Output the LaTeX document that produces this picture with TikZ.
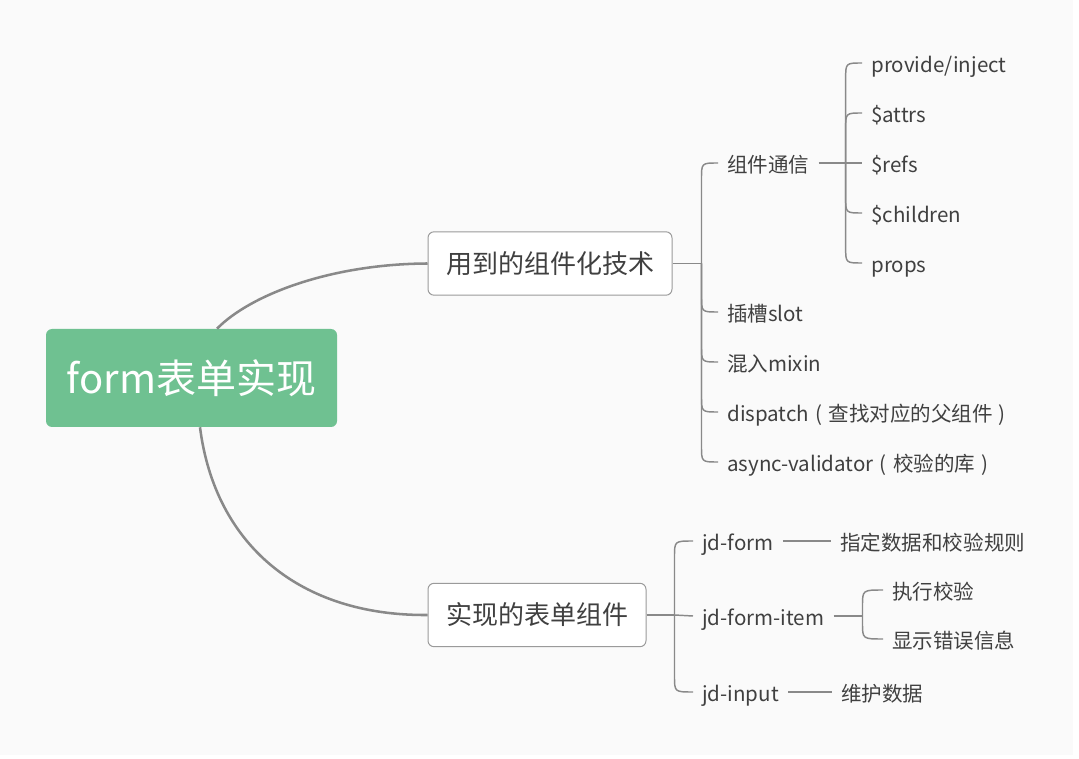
\documentclass[tikz,border=0pt]{standalone}
\usepackage{fontspec}
\setmainfont{Noto Sans CJK SC}
\usetikzlibrary{calc}
\definecolor{bgc}{HTML}{FAFAFA}
\definecolor{rootc}{HTML}{6FC191}
\definecolor{linec}{HTML}{898989}
\definecolor{txtc}{HTML}{404040}
\definecolor{boxb}{HTML}{9A9A9A}
\newcommand\brdown[2]{\draw[brl] (#1) -- ($(#1 |- #2.west)+(0,-16)$) .. controls (#1 |- #2.west) .. (#2.west);}
\newcommand\brup[2]{\draw[brl] (#1) -- ($(#1 |- #2.west)+(0,16)$) .. controls (#1 |- #2.west) .. (#2.west);}
\newcommand\lpar{\hspace{0.3em}(\hspace{0.3em}}
\newcommand\rpar{\hspace{0.3em})}
\begin{document}
\begin{tikzpicture}[x=0.75pt,y=-0.75pt,
  rootnode/.style={fill=rootc, rounded corners=4.5pt, minimum width=218.25pt, minimum height=73.5pt,
    inner sep=0pt, text=white, font=\fontsize{30pt}{36pt}\selectfont},
  l1box/.style={draw=boxb, line width=0.75pt, fill=white, rounded corners=4.5pt, inner xsep=13.5pt,
    minimum height=47.5pt, inner ysep=0pt, text=txtc, font=\fontsize{19.5pt}{23pt}\selectfont},
  leaf/.style={anchor=west, inner xsep=6.75pt, inner ysep=0pt, text height=1.4em, text depth=0pt,
    text=txtc, font=\fontsize{15.4pt}{18pt}\selectfont},
  mainl/.style={draw=linec, line width=1.9pt},
  brl/.style={draw=linec, line width=1.1pt},
]
\useasboundingbox (0,0) rectangle (1079,759);
\fill[white] (0,0) rectangle (1079,759);
\fill[bgc] (0,0) rectangle (1073,755);

% nodes
\node[rootnode] (root) at (191.5,378) {form表单实现};
\node[l1box] (A) at (550,263.5) {用到的组件化技术};
\node[l1box] (B) at (537,615) {实现的表单组件};

\node[leaf] (c1) at (718,163) {组件通信};
\node[leaf] (c2) at (718,312) {插槽slot};
\node[leaf] (c3) at (718,362) {混入mixin};
\node[leaf] (c4) at (718,412) {dispatch\lpar 查找对应的父组件\rpar};
\node[leaf] (c5) at (718,462) {async-validator\lpar 校验的库\rpar};

\node[leaf] (d1) at (862,63) {provide/inject};
\node[leaf] (d2) at (862,113) {\$attrs};
\node[leaf] (d3) at (862,163) {\$refs};
\node[leaf] (d4) at (862,213) {\$children};
\node[leaf] (d5) at (862,263) {props};

\node[leaf] (e1) at (693,541) {jd-form};
\node[leaf] (e2) at (693,616) {jd-form-item};
\node[leaf] (e3) at (693,692) {jd-input};

\node[leaf] (f1) at (831,541) {指定数据和校验规则};
\node[leaf] (g1) at (883,590) {执行校验};
\node[leaf] (g2) at (883,639) {显示错误信息};
\node[leaf] (h1) at (832,692) {维护数据};

% junctions
\coordinate (JA) at ($(A.east)+(29,0)$);
\coordinate (JC) at ($(c1.east)+(27,0)$);
\coordinate (JB) at ($(B.east)+(28,0)$);
\coordinate (JE) at ($(e2.east)+(29,0)$);

% root connectors
\draw[mainl] ($(root.north)+(25.5,0)$) .. controls (250,295) and (330,264) .. (A.west);
\draw[mainl] ($(root.south)+(8.5,0)$) .. controls (215,545) and (300,616) .. (B.west);

% branch A
\draw[brl] (A.east) -- (JA);
\brup{JA}{c1}
\brdown{JA}{c2}
\brdown{JA}{c3}
\brdown{JA}{c4}
\brdown{JA}{c5}

\draw[brl] (c1.east) -- (JC);
\brup{JC}{d1}
\brup{JC}{d2}
\draw[brl] (JC) -- (d3.west);
\brdown{JC}{d4}
\brdown{JC}{d5}

% branch B
\draw[brl] (B.east) -- (JB);
\brup{JB}{e1}
\draw[brl] (JB) -- (e2.west);
\brdown{JB}{e3}

\draw[brl] (e1.east) -- (f1.west);
\draw[brl] (e2.east) -- (JE);
\brup{JE}{g1}
\brdown{JE}{g2}
\draw[brl] (e3.east) -- (h1.west);
\end{tikzpicture}
\end{document}
